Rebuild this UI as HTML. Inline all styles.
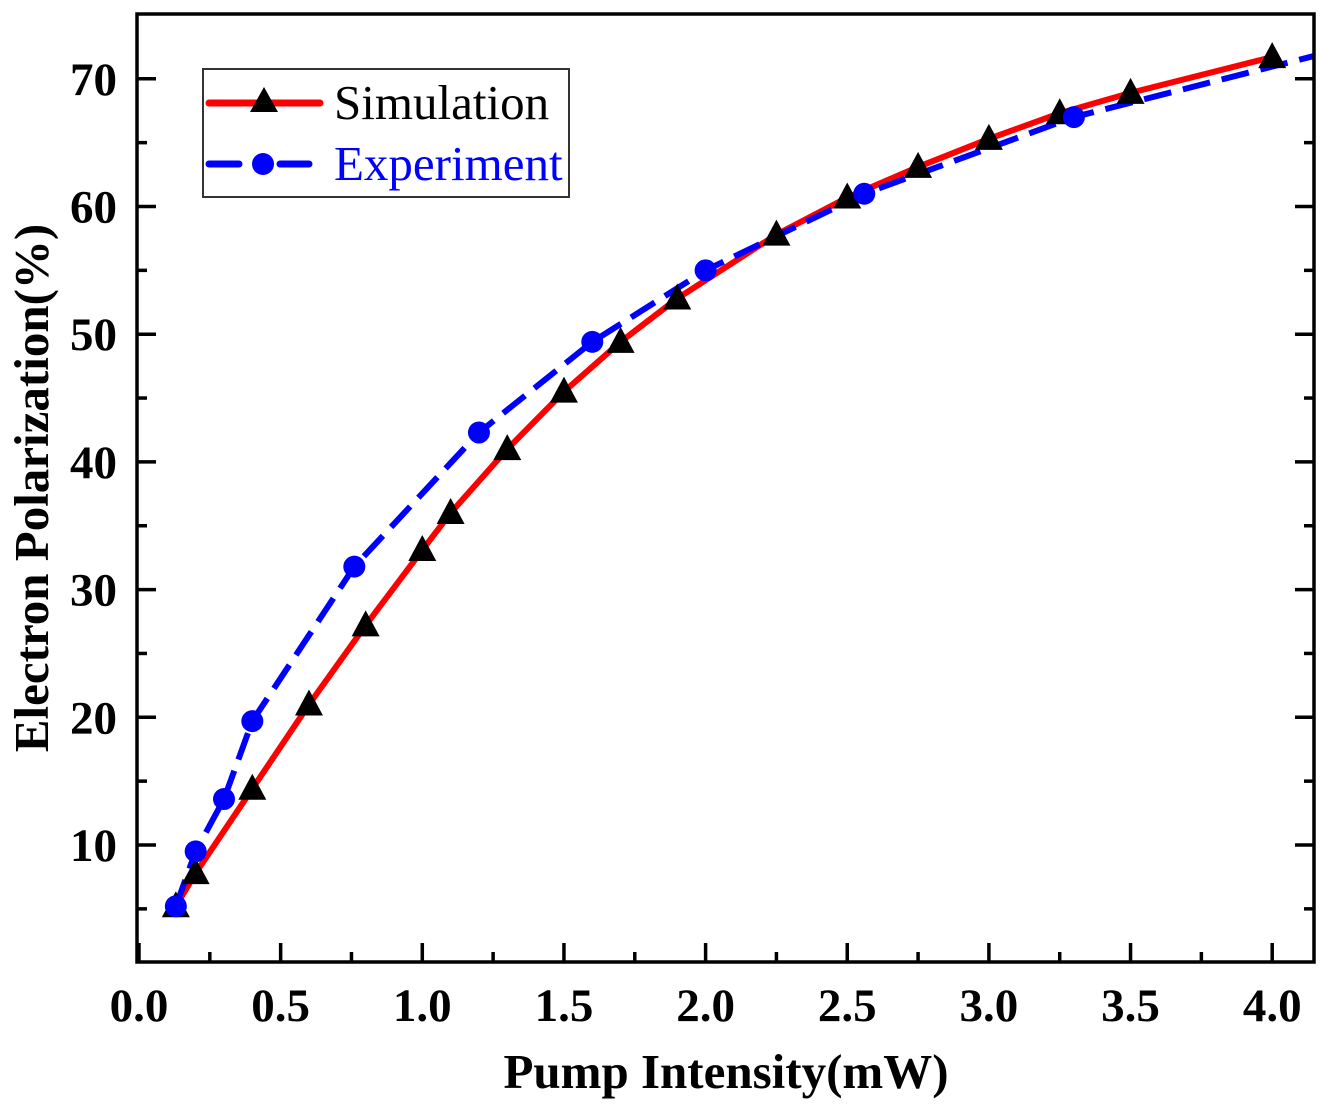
<!DOCTYPE html>
<html><head><meta charset="utf-8"><style>
body{margin:0;background:#fff}
svg{display:block;font-family:"Liberation Serif",serif}
</style></head><body>
<svg id="chart" width="1331" height="1110" viewBox="0 0 1331 1110">
<g id="lines"></g><g id="marks"></g><g id="axes"></g>
</svg>
<script>
const simX=[0.13,0.2,0.4,0.6,0.8,1.0,1.1,1.3,1.5,1.7,1.9,2.25,2.5,2.75,3.0,3.25,3.5,4.0];
const simY=[5.2,7.8,14.4,21.0,27.2,33.1,36.0,41.0,45.5,49.4,52.8,57.8,60.7,63.1,65.3,67.3,68.9,71.7];
const expX=[0.13,0.2,0.3,0.4,0.76,1.2,1.6,2.0,2.56,3.3,4.15];
const expY=[5.2,9.5,13.6,19.7,31.8,42.3,49.4,55.0,61.0,67.0,71.8];
const xTicks=[0,0.5,1,1.5,2,2.5,3,3.5,4];
const xTickLabels=["0.0","0.5","1.0","1.5","2.0","2.5","3.0","3.5","4.0"];
const yTicks=[10,20,30,40,50,60,70];
const yTickLabels=["10","20","30","40","50","60","70"];
const L=137,R=1314,T=14,B=962;
const X=v=>139+v*283.3, Y=v=>972.7-v*12.77;
const NS="http://www.w3.org/2000/svg";
function mk(parent,tag,attrs,text){const e=document.createElementNS(NS,tag);for(const k in attrs)e.setAttribute(k,attrs[k]);if(text!==undefined)e.textContent=text;document.getElementById(parent).appendChild(e);return e;}
const clip=mk('lines','clipPath',{id:'cp'});
const cr=document.createElementNS(NS,'rect');cr.setAttribute('x',L);cr.setAttribute('y',T);cr.setAttribute('width',R-L);cr.setAttribute('height',B-T);clip.appendChild(cr);
let p1=mk('lines','path',{d:'M'+simX.map((v,i)=>X(v)+','+Y(simY[i])).join('L'),fill:'none',stroke:'#ff0000','stroke-width':6,'clip-path':'url(#cp)'});

let p2=mk('lines','path',{d:'M'+expX.map((v,i)=>X(v)+','+Y(expY[i])).join('L'),fill:'none',stroke:'#0000ff','stroke-width':6,'stroke-dasharray':'28,12','clip-path':'url(#cp)'});

simX.forEach((v,i)=>{const x=X(v),y=Y(simY[i]);const m=mk('marks','polygon',{points:`${x},${y-15} ${x-14},${y+11} ${x+14},${y+11}`,fill:'#000'});
});
expX.forEach((v,i)=>{if(v>4.14)return;const m=mk('marks','circle',{cx:X(v),cy:Y(expY[i]),r:11,fill:'#0000ff'});
});
const fr=mk('axes','rect',{x:L,y:T,width:R-L,height:B-T,fill:'none',stroke:'#000','stroke-width':3.5});

xTicks.forEach((v,i)=>{const x=X(v);mk('axes','line',{x1:x,x2:x,y1:B,y2:B-19,stroke:'#000','stroke-width':3.5});
if(X(v+0.25)<R)mk('axes','line',{x1:X(v+0.25),x2:X(v+0.25),y1:B,y2:B-10,stroke:'#000','stroke-width':3.5});
const t=mk('axes','text',{x:x,y:1021,'text-anchor':'middle','font-size':47,'font-weight':'bold'},xTickLabels[i]);
});
yTicks.forEach((v,i)=>{const y=Y(v);
[[L,L+19],[R,R-19]].forEach(a=>mk('axes','line',{x1:a[0],x2:a[1],y1:y,y2:y,stroke:'#000','stroke-width':3.5}));
[[L,L+10],[R,R-10]].forEach(a=>mk('axes','line',{x1:a[0],x2:a[1],y1:Y(v-5),y2:Y(v-5),stroke:'#000','stroke-width':3.5}));
const t=mk('axes','text',{x:117,y:y+16,'text-anchor':'end','font-size':47,'font-weight':'bold'},yTickLabels[i]);
});
const xt=mk('axes','text',{x:726,y:1088,'text-anchor':'middle','font-size':49,'font-weight':'bold'},'Pump Intensity(mW)');

const yt=mk('axes','text',{x:0,y:0,transform:'translate(48,488) rotate(-90)','text-anchor':'middle','font-size':49,'font-weight':'bold'},'Electron Polarization(%)');

const lg=mk('axes','rect',{x:203,y:69,width:366,height:128,fill:'#fff',stroke:'#333','stroke-width':2});

mk('axes','line',{x1:209,x2:320,y1:103,y2:103,stroke:'#ff0000','stroke-width':7,'stroke-linecap':'round'});
mk('axes','polygon',{points:'264,87 250,112 278,112',fill:'#000'});
const l1=mk('axes','text',{x:334,y:119,'font-size':49},'Simulation');

mk('axes','line',{x1:209,x2:239,y1:164,y2:164,stroke:'#0000ff','stroke-width':7,'stroke-linecap':'round'});
mk('axes','line',{x1:280,x2:309,y1:164,y2:164,stroke:'#0000ff','stroke-width':7,'stroke-linecap':'round'});
mk('axes','circle',{cx:263,cy:164,r:11,fill:'#0000ff'});
const l2=mk('axes','text',{x:334,y:180,'font-size':49,fill:'#0000ff'},'Experiment');

</script>
</body></html>
